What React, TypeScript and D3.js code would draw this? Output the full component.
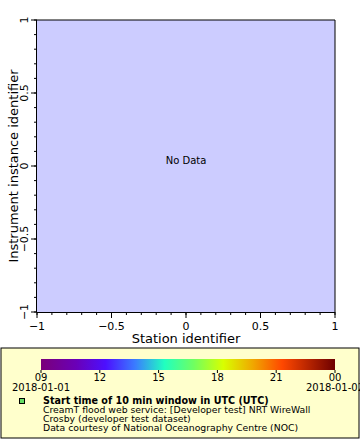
import React from "react";
import * as d3 from "d3";

const xDomain: [number, number] = [-1, 1];
const yDomain: [number, number] = [-1, 1];
const xTicks = [-1, -0.5, 0, 0.5, 1];
const yTicks = [-1, -0.5, 0, 0.5, 1];
const minorTicks = d3.range(-10, 11).map((d) => d / 10);
const xLabel = "Station identifier";
const yLabel = "Instrument instance identifier";
const noDataText = "No Data";
const cbLabels = ["09", "12", "15", "18", "21", "00"];
const cbDates = ["2018-01-01", "2018-01-02"];
const cbStops = [
  { o: 0, c: "#7a0079" },
  { o: 0.12, c: "#6a00b8" },
  { o: 0.22, c: "#4c10ff" },
  { o: 0.32, c: "#3a7cff" },
  { o: 0.42, c: "#20ffc0" },
  { o: 0.52, c: "#70ff60" },
  { o: 0.62, c: "#d8ff00" },
  { o: 0.72, c: "#f0a800" },
  { o: 0.82, c: "#ff4800" },
  { o: 1, c: "#6e0000" },
];
const legendTitle = "Start time of 10 min window in UTC (UTC)";
const legendLines = [
  "CreamT flood web service: [Developer test] NRT WireWall",
  "Crosby (developer test dataset)",
  "Data courtesy of National Oceanography Centre (NOC)",
];

const FONT = "DejaVu Sans, sans-serif";

export default function App() {
  const left = 37, right = 335, top = 20, bottom = 312;
  const x = d3.scaleLinear().domain(xDomain).range([left, right]);
  const y = d3.scaleLinear().domain(yDomain).range([bottom, top]);
  const cbX0 = 41, cbX1 = 335;
  const cb = d3.scalePoint<string>().domain(cbLabels).range([cbX0, cbX1]);
  const fmt = (v: number) => (v === 0 ? "0" : d3.format("")(v));

  return (
    <svg
      width={360}
      height={440}
      style={{ position: "absolute", left: 0, top: 0, display: "block" }}
      fontFamily={FONT}
    >
      <defs>
        <linearGradient id="cbg" x1="0" x2="1" y1="0" y2="0">
          {cbStops.map((s, i) => (
            <stop key={i} offset={s.o} stopColor={s.c} />
          ))}
        </linearGradient>
      </defs>
      <rect width={360} height={440} fill="#fff" />
      <rect
        x={left}
        y={top}
        width={right - left}
        height={bottom - top}
        fill="#ccccff"
      />
      <text x={(left + right) / 2} y={164} fontSize={10} textAnchor="middle" fill="#000">
        {noDataText}
      </text>
      <path d={`M${left},${top}H${right}V${bottom}`} fill="none" stroke="#000" strokeWidth={1} />
      <line x1={left} x2={right} y1={bottom + 0.5} y2={bottom + 0.5} stroke="#000" />
      <line x1={left - 0.5} x2={left - 0.5} y1={top} y2={bottom} stroke="#000" />
      {minorTicks.map((v, i) => (
        <g key={"m" + i}>
          <line x1={x(v)} x2={x(v)} y1={bottom} y2={bottom + 3} stroke="#000" />
          <line x1={left} x2={left - 3} y1={y(v)} y2={y(v)} stroke="#000" />
        </g>
      ))}
      {xTicks.map((v, i) => (
        <g key={"x" + i}>
          <line x1={x(v)} x2={x(v)} y1={bottom} y2={bottom + 6} stroke="#000" />
          <text x={x(v)} y={bottom + 18} fontSize={11} textAnchor="middle">
            {fmt(v)}
          </text>
        </g>
      ))}
      {yTicks.map((v, i) => (
        <g key={"y" + i}>
          <line x1={left} x2={left - 6} y1={y(v)} y2={y(v)} stroke="#000" />
          <text
            transform={`translate(${left - 9},${y(v)}) rotate(-90)`}
            fontSize={11}
            textAnchor="middle"
          >
            {fmt(v)}
          </text>
        </g>
      ))}
      <text x={(left + right) / 2} y={343} fontSize={13} textAnchor="middle">
        {xLabel}
      </text>
      <text
        transform={`translate(18,${(top + bottom) / 2}) rotate(-90)`}
        fontSize={13}
        textAnchor="middle"
      >
        {yLabel}
      </text>
      <rect x={1} y={348} width={358} height={90} fill="#ffffcc" stroke="#000" strokeWidth={1} />
      <rect x={cbX0} y={359} width={cbX1 - cbX0} height={11} fill="url(#cbg)" />
      {cbLabels.map((l, i) => (
        <g key={"c" + i}>
          <line x1={cb(l)} x2={cb(l)} y1={370} y2={373} stroke="#000" />
          <text x={cb(l)} y={381} fontSize={10} textAnchor="middle">
            {l}
          </text>
        </g>
      ))}
      <text x={cbX0} y={391} fontSize={10} textAnchor="middle">
        {cbDates[0]}
      </text>
      <text x={cbX1} y={391} fontSize={10} textAnchor="middle">
        {cbDates[1]}
      </text>
      <rect x={19.5} y={398.5} width={5} height={5} fill="#66dd66" stroke="#000" />
      <text x={43} y={404} fontSize={9.6} fontWeight="bold">
        {legendTitle}
      </text>
      {legendLines.map((t, i) => (
        <text key={"l" + i} x={43} y={413 + i * 9} fontSize={9.3}>
          {t}
        </text>
      ))}
    </svg>
  );
}
